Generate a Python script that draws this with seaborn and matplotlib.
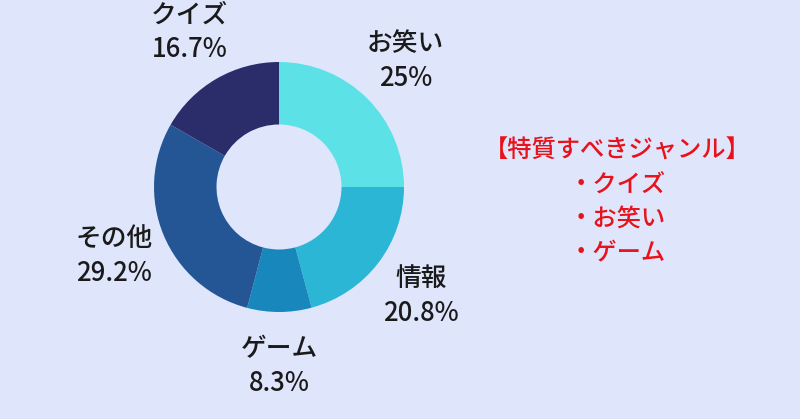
import matplotlib
matplotlib.use("Agg")
import matplotlib.pyplot as plt
import seaborn as sns

categories = ["お笑い", "情報", "ゲーム", "その他", "クイズ"]
values = [25, 20.8, 8.3, 29.2, 16.7]
slice_colors = ["#5ce1e6", "#2bb6d5", "#1887bc", "#245696", "#2a2d69"]
note_lines = ["【特質すべきジャンル】", "・クイズ", "・お笑い", "・ゲーム"]

sns.set_theme(style="white")
plt.rcParams["font.family"] = ["Noto Sans CJK JP", "DejaVu Sans"]

bg = "#dfe6fc"
fig = plt.figure(figsize=(8, 4.19), dpi=100, facecolor=bg)
ax = fig.add_axes([0, 0, 1, 1])
ax.set_facecolor(bg)

palette = sns.color_palette(slice_colors)
labels = [f"{c}\n{v:g}%" for c, v in zip(categories, values)]
wedges, texts = ax.pie(
    values, labels=labels, colors=palette, startangle=90, counterclock=False,
    radius=1.0, labeldistance=1.43,
    wedgeprops=dict(width=0.5, linewidth=0),
    textprops=dict(fontsize=18.5, color="#1a1a1a", ha="center", va="center",
                   linespacing=1.38, fontweight="medium"),
)

ax.set_xlim(-279 / 125, (800 - 279) / 125)
ax.set_ylim(-232 / 125, 187 / 125)
ax.set_aspect("equal")
ax.axis("off")

fig.text(617 / 800, 217 / 419, "\n".join(note_lines), color="#e8121c",
         fontsize=17.5, ha="center", va="center", multialignment="center",
         linespacing=1.42, fontweight="medium")

fig.savefig("out.png", dpi=100, facecolor=bg)
